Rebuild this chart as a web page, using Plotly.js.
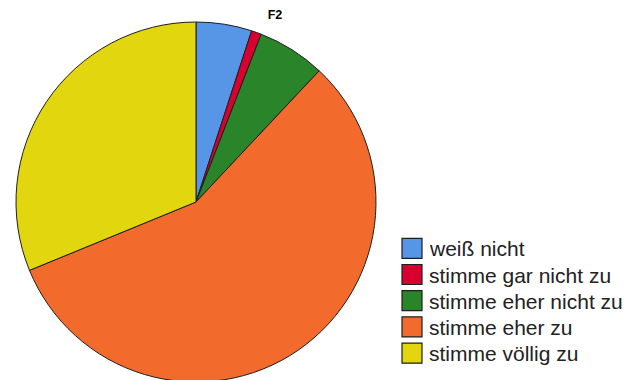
<!DOCTYPE html>
<html>
<head>
<meta charset="utf-8">
<script src="https://cdn.plot.ly/plotly-3.0.1.min.js"></script>
<style>
  html, body { margin: 0; padding: 0; background: #fff; overflow: hidden; }
  #chart { width: 639px; height: 400px; }
</style>
</head>
<body>
<div id="chart"></div>
<script>
// Answers to item F2 (percent of respondents)
const categories = ['weiß nicht', 'stimme gar nicht zu', 'stimme eher nicht zu', 'stimme eher zu', 'stimme völlig zu'];
const shares = [5.0, 0.9, 6.1, 56.8, 31.2];
const sliceColors = ['#5796e6', '#d8002f', '#2a852a', '#f26b2d', '#e2d70f'];
const chartTitle = 'F2';

const W = 639, H = 400;
const px = x => x / W;
const py = y => 1 - y / H;

const pie = {
  type: 'pie',
  labels: categories,
  values: shares,
  sort: false,
  direction: 'clockwise',
  rotation: 0,
  textinfo: 'none',
  hoverinfo: 'label+percent',
  marker: { colors: sliceColors, line: { color: '#1e1e1e', width: 1 } },
  domain: { x: [px(16), px(376)], y: [py(382), py(22)] },
  showlegend: false
};

// Legend drawn as boxes and labels beside the pie
const legendTop = 248.3, legendStep = 26.2, boxSize = 20, boxLeft = 402;
const shapes = [];
const annotations = [];
categories.forEach((name, i) => {
  const cy = legendTop + i * legendStep;
  shapes.push({
    type: 'rect', xref: 'paper', yref: 'paper',
    x0: px(boxLeft), x1: px(boxLeft + boxSize),
    y0: py(cy + boxSize / 2), y1: py(cy - boxSize / 2),
    fillcolor: sliceColors[i],
    line: { color: '#1e1e1e', width: 1.2 }
  });
  annotations.push({
    xref: 'paper', yref: 'paper',
    x: px(427), y: py(cy + 0.5),
    xanchor: 'left', yanchor: 'middle',
    text: name, showarrow: false,
    font: { family: 'Liberation Sans, Arial, sans-serif', size: 21, color: '#222' }
  });
});

const layout = {
  width: W, height: H,
  margin: { l: 0, r: 0, t: 0, b: 0 },
  paper_bgcolor: '#fff',
  title: {
    text: '<b>' + chartTitle + '</b>',
    x: px(275), xanchor: 'center',
    y: py(14.5), yanchor: 'middle',
    font: { family: 'Liberation Sans, Arial, sans-serif', size: 12.5, color: '#000' }
  },
  shapes: shapes,
  annotations: annotations
};

Plotly.newPlot('chart', [pie], layout, { displayModeBar: false, staticPlot: true });
</script>
</body>
</html>
